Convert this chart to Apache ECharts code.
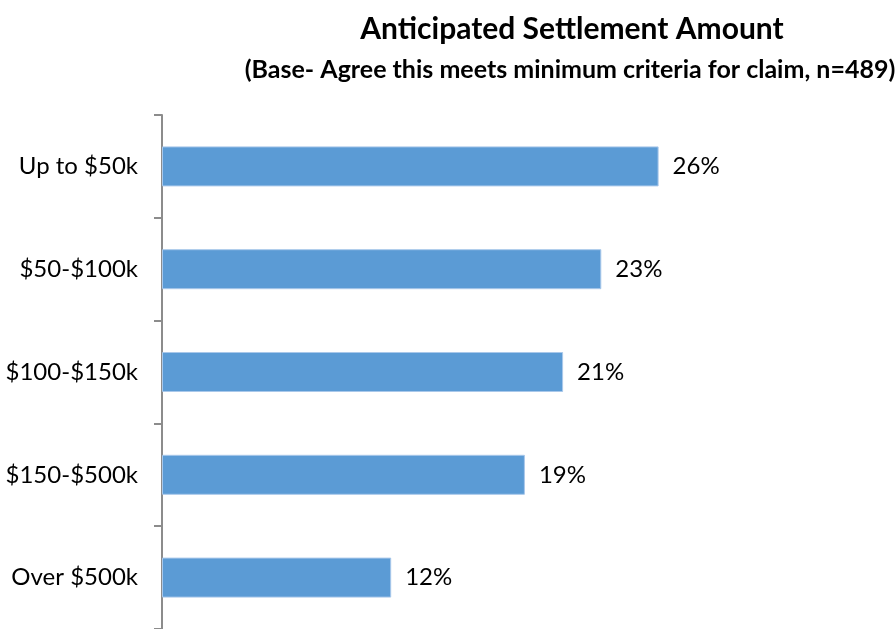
<!DOCTYPE html>
<html>
<head>
<meta charset="utf-8">
<script src="https://cdn.jsdelivr.net/npm/echarts@6/dist/echarts.min.js"></script>
<style>
  html, body { margin: 0; padding: 0; background: #ffffff; }
  #chart { width: 895px; height: 629px; }
</style>
</head>
<body>
<div id="chart"></div>
<script>
// Settlement bands, top to bottom
const categories = ['Up to $50k', '$50-$100k', '$100-$150k', '$150-$500k', 'Over $500k'];
// Share of respondents (%) for each band
const shares = [26, 23, 21, 19, 12];

const titleText = 'Anticipated Settlement Amount';
const subtitleText = '(Base- Agree this meets minimum criteria for claim, n=489)';

const FONT = 'Lato, "Open Sans", sans-serif';

const chart = echarts.init(document.getElementById('chart'), null, { renderer: 'canvas' });

chart.setOption({
  animation: false,
  backgroundColor: '#ffffff',
  title: [
    {
      text: titleText,
      left: 567,
      top: 9,
      textAlign: 'center',
      textStyle: { fontFamily: FONT, fontWeight: 'bold', fontSize: 30, color: '#000000' }
    },
    {
      text: subtitleText,
      left: 565,
      top: 52,
      textAlign: 'center',
      textStyle: { fontFamily: FONT, fontWeight: 'bold', fontSize: 25, color: '#000000' }
    }
  ],
  grid: {
    left: 162,
    top: 115,
    width: 573,
    height: 517,
    containLabel: false
  },
  xAxis: {
    type: 'value',
    min: 0,
    max: 30,
    show: false
  },
  yAxis: {
    type: 'category',
    data: categories,
    inverse: true,
    axisLine: { show: true, lineStyle: { color: '#8c8c8c', width: 2 } },
    axisTick: { show: true, length: 8, lineStyle: { color: '#8c8c8c', width: 2 } },
    axisLabel: {
      margin: 24,
      fontFamily: FONT,
      fontSize: 24,
      color: '#000000'
    },
    splitLine: { show: false }
  },
  series: [
    {
      type: 'bar',
      data: shares,
      barWidth: 40,
      itemStyle: { color: '#5b9bd5', borderColor: '#a9c8ea', borderWidth: 1 },
      label: {
        show: true,
        position: 'right',
        distance: 14,
        formatter: '{c}%',
        fontFamily: FONT,
        fontSize: 24,
        color: '#000000'
      }
    }
  ]
});
</script>
</body>
</html>
